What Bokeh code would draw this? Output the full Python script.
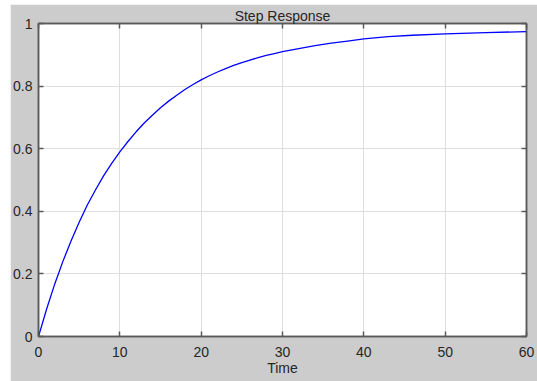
from bokeh.plotting import figure
from bokeh.models import Range1d, FixedTicker, LinearAxis, Spacer, CustomJSTickFormatter
from bokeh.layouts import column, row
from bokeh.embed import file_html
from bokeh.resources import INLINE

# Step response samples (time, amplitude)
t = [0, 1, 2, 3, 4, 5, 6, 7, 8, 9, 10, 11, 12, 13, 14, 15, 16, 17, 18, 19,
     20, 21, 22, 23, 24, 25, 26, 27, 28, 29, 30, 32, 34, 36, 38, 40, 43, 46,
     50, 55, 60]
y = [0.0, 0.088, 0.168, 0.240, 0.305, 0.365, 0.420, 0.468, 0.513, 0.553,
     0.590, 0.623, 0.654, 0.682, 0.707, 0.731, 0.752, 0.771, 0.789, 0.805,
     0.820, 0.833, 0.845, 0.856, 0.866, 0.875, 0.883, 0.891, 0.898, 0.904,
     0.910, 0.920, 0.929, 0.937, 0.944, 0.951, 0.958, 0.9625, 0.967, 0.971,
     0.974]

x_ticks = [0, 10, 20, 30, 40, 50, 60]
y_ticks = [0, 0.2, 0.4, 0.6, 0.8, 1.0]
y_tick_labels = ["0", "0.2", "0.4", "0.6", "0.8", "1"]

title_text = "Step Response"
x_label = "Time"

FONT = "Liberation Sans"
GRAY_BG = "#cccccc"
AXIS_COLOR = "#5a5a5a"
TEXT_COLOR = "#262626"
GRID_COLOR = "#dedede"

p = figure(width=527, height=377, output_backend="svg", toolbar_location=None,
           x_range=Range1d(0, 60), y_range=Range1d(0, 1),
           min_border_left=27, min_border_right=11,
           min_border_top=19, min_border_bottom=45)
p.border_fill_color = GRAY_BG
p.background_fill_color = "white"
p.outline_line_color = AXIS_COLOR
p.outline_line_width = 1.5

p.title.text = title_text
p.title.align = "center"
p.title.text_font = FONT
p.title.text_font_size = "14px"
p.title.text_font_style = "normal"
p.title.text_color = TEXT_COLOR
p.title.standoff = 0
p.title.offset = 0

p.line(t, y, line_color="#0000ff", line_width=1.3)

# main axes
xa = p.xaxis[0]
ya = p.yaxis[0]
xa.ticker = FixedTicker(ticks=x_ticks)
ya.ticker = FixedTicker(ticks=y_ticks)
ya.major_label_overrides = {v: s for v, s in zip(y_ticks, y_tick_labels)}
xa.axis_label = x_label
xa.axis_label_standoff = 0
xa.axis_label_text_font_style = "normal"

for ax in (xa, ya):
    ax.axis_line_color = AXIS_COLOR
    ax.axis_line_width = 1.5
    ax.major_tick_line_color = AXIS_COLOR
    ax.major_tick_line_width = 1.5
    ax.major_tick_in = 5
    ax.major_tick_out = 0
    ax.minor_tick_line_color = None
    ax.major_label_text_font = FONT
    ax.major_label_text_font_size = "14px"
    ax.major_label_text_color = TEXT_COLOR
    ax.axis_label_text_font = FONT
    ax.axis_label_text_font_size = "14px"
    ax.axis_label_text_color = TEXT_COLOR
xa.major_label_standoff = 10
ya.major_label_standoff = 6

# top and right axes carry inward ticks only
blank = CustomJSTickFormatter(code="return ''")
top = LinearAxis(ticker=FixedTicker(ticks=x_ticks), formatter=blank)
right = LinearAxis(ticker=FixedTicker(ticks=y_ticks), formatter=blank)
for ax in (top, right):
    ax.axis_line_color = AXIS_COLOR
    ax.axis_line_width = 1.5
    ax.major_tick_line_color = AXIS_COLOR
    ax.major_tick_line_width = 1.5
    ax.major_tick_in = 5
    ax.major_tick_out = 0
    ax.minor_tick_line_color = None
    ax.major_label_standoff = 0
p.add_layout(top, "above")
p.add_layout(right, "right")

p.xgrid.ticker = FixedTicker(ticks=x_ticks)
p.ygrid.ticker = FixedTicker(ticks=y_ticks)
for g in (p.xgrid[0], p.ygrid[0]):
    g.grid_line_color = GRID_COLOR
    g.grid_line_width = 1

layout = column(Spacer(height=4, width=537),
                row(Spacer(width=10, height=377), p))

open("out.html", "w").write(file_html(layout, INLINE))
